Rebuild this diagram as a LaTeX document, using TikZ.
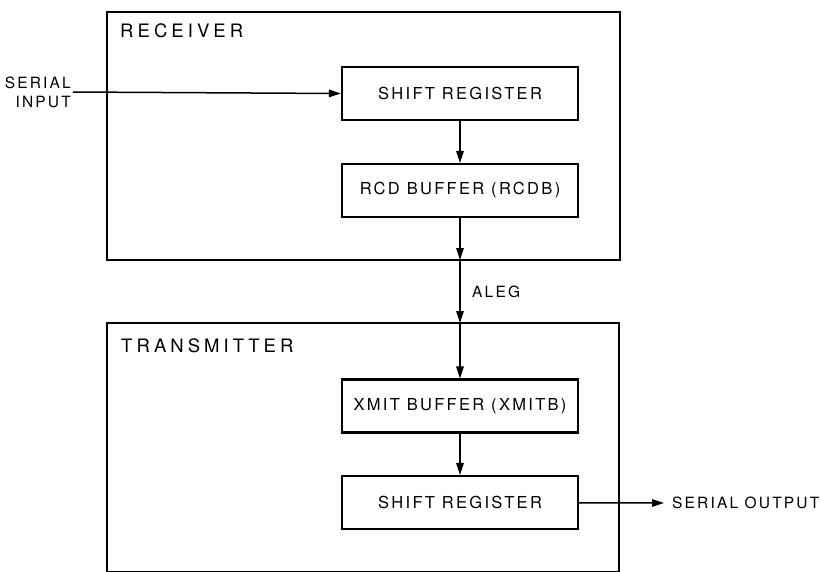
\documentclass[tikz,border=0pt]{standalone}
\usepackage{fontspec}
\usepackage{tikz}
\usetikzlibrary{arrows.meta}
\newfontfamily\lettering[LetterSpace=14]{TeX Gyre Heros}
\newfontfamily\titlelettering[LetterSpace=22]{TeX Gyre Heros}
\tikzset{
  unitbox/.style={draw, line width=2.1pt, minimum width=236pt, minimum height=53pt,
    font=\lettering\fontsize{16.5}{19}\selectfont},
  outerbox/.style={draw, line width=2.9pt},
  lbl/.style={font=\lettering\fontsize{15.5}{19}\selectfont},
  title/.style={font=\titlelettering\fontsize{18.5}{21}\selectfont, anchor=west, inner sep=0pt},
  flow/.style={line width=1.5pt, -{Triangle[length=12pt,width=7.5pt]}}
}
\begin{document}
\begin{tikzpicture}[x=1pt,y=-1pt]
  \useasboundingbox (0,0) rectangle (822,571);
  % receiver
  \draw[outerbox] (107,12) rectangle (620,260);
  \coordinate (rxbot) at (460,260);
  \node[title] (rxname) at (120,31) {RECEIVER};
  \node[unitbox] (sr1) at (460,93.5) {SHIFT REGISTER};
  \node[unitbox] (rcdb) at (460,190.5) {RCD BUFFER (RCDB)};
  % transmitter (cut off at the bottom)
  \draw[outerbox] (107,323) rectangle (619,572.5);
  \coordinate (txtop) at (460,323);
  \node[title] (txname) at (121,346) {TRANSMITTER};
  \node[unitbox] (xmitb) at (460,406) {XMIT BUFFER (XMITB)};
  \node[unitbox] (sr2) at (460,502.5) {SHIFT REGISTER};
  % serial in / out
  \node[lbl, align=right, anchor=east, inner sep=2pt] (sin) at (73,92) {SERIAL\\INPUT};
  \node[lbl, anchor=west, inner sep=0pt] (sout) at (672,503) {SERIAL OUTPUT};
  \coordinate (souttip) at (664,503);
  \node[lbl, anchor=west, inner sep=0pt] (aleg) at (472,292) {ALEG};
  % connectors
  \draw[flow] (sin.east) -- (sr1.west);
  \draw[flow] (sr1) -- (rcdb);
  \draw[flow] (rcdb) -- (rxbot);
  \draw[flow] (rxbot) -- (txtop);
  \draw[flow] (txtop) -- (xmitb);
  \draw[flow] (xmitb) -- (sr2);
  \draw[flow] (sr2) -- (souttip);
\end{tikzpicture}
\end{document}
